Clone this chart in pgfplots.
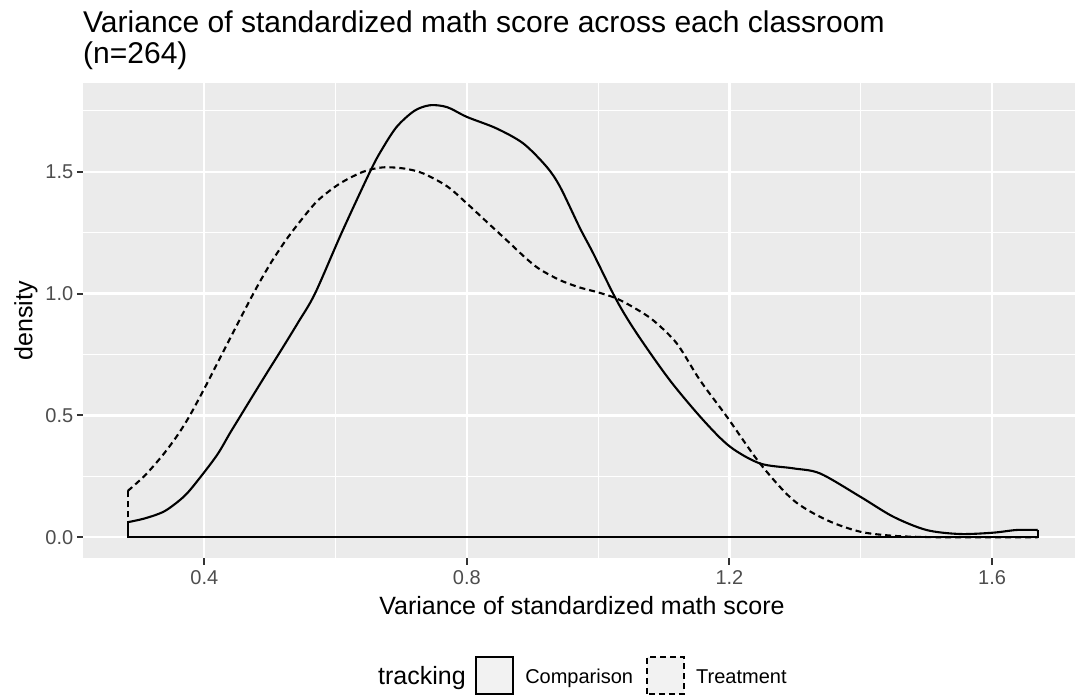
\documentclass[border=0pt]{standalone}
\usepackage{fontspec}
\setmainfont{Liberation Sans}
\usepackage{pgfplots}
\pgfplotsset{compat=1.18}
\definecolor{panelgray}{HTML}{EBEBEB}
\definecolor{grey30}{HTML}{4D4D4D}
\definecolor{grey20}{HTML}{333333}
\definecolor{keyfill}{HTML}{F2F2F2}
\begin{document}
\begin{tikzpicture}
\path[use as bounding box] (0pt,0pt) rectangle (1075pt,698pt);
\begin{axis}[
  at={(83pt,139.7pt)}, anchor=south west,
  scale only axis, width=992pt, height=475pt,
  xmin=0.2152, xmax=1.7264, ymin=-0.0862, ymax=1.863,
  axis background/.style={fill=panelgray},
  axis line style={draw=none},
  grid=both,
  major grid style={white, line width=2.3pt},
  minor grid style={white, line width=1.15pt},
  xtick={0.4,0.8,1.2,1.6}, xticklabels={0.4,0.8,1.2,1.6},
  ytick={0,0.5,1,1.5}, yticklabels={0.0,0.5,1.0,1.5},
  minor xtick={0.6,1.0,1.4}, minor ytick={0.25,0.75,1.25,1.75},
  xtick pos=lower, ytick pos=left,
  tick align=outside, major tick length=6.25pt, minor tick length=0pt,
  tick style={line width=2pt, color=grey20},
  /pgf/number format/assume math mode=true,
  ticklabel style={font=\fontsize{20}{24}\selectfont, text=grey30},
  xticklabel style={yshift=-2.5pt},
  xlabel={Variance of standardized math score},
  ylabel={density},
  xlabel style={font=\fontsize{25}{30}\selectfont, at={(axis description cs:0.503,-0.1173)}, anchor=base},
  ylabel style={font=\fontsize{25}{30}\selectfont, at={(axis description cs:-0.0510,0.5)}, anchor=base},
  title={\begin{tabular}[t]{@{}l@{}}Variance of standardized math score across each classroom\\(n=264)\end{tabular}},
  title style={font=\fontsize{30}{30}\selectfont, inner sep=0pt, at={(axis description cs:0,1.0933)}, anchor=base west},
  legend style={draw=none, fill=none, legend columns=-1, at={(axis description cs:0.3921,-0.2472)}, anchor=west,
    font=\fontsize{20}{24}\selectfont,
    nodes={text height=0.73em, text depth=0.21em},
    /tikz/every odd column/.append style={column sep=9pt},
    /tikz/every even column/.append style={column sep=11pt}},
  legend image code/.code={\draw[#1, fill=keyfill] (0pt,-13.7pt) rectangle (37pt,23.3pt);},
]
% Comparison
\addplot[black, line width=2.1pt, smooth, tension=0.5] coordinates {
(0.2833,0.062) (0.31,0.078) (0.34,0.108) (0.37,0.17) (0.3935,0.245) (0.42,0.34)
(0.439,0.427) (0.456,0.502) (0.4696,0.562) (0.495,0.673) (0.518,0.772) (0.543,0.882)
(0.5686,1.0) (0.6093,1.25) (0.6524,1.5) (0.670,1.589) (0.693,1.684) (0.72,1.75)
(0.744,1.773) (0.77,1.765) (0.800,1.725)
(0.845,1.678) (0.886,1.616) (0.9216,1.52) (0.942,1.438) (0.972,1.27) (0.9925,1.165)
(1.028,0.973) (1.0587,0.837) (1.109,0.645) (1.160,0.481) (1.2008,0.372) (1.2465,0.303)
(1.297,0.283) (1.338,0.262) (1.399,0.167) (1.4495,0.0845) (1.500,0.030) (1.551,0.0135)
(1.602,0.019) (1.6375,0.030) (1.6696,0.030)
};
\addlegendentry{Comparison}
\addplot[black, line width=2.1pt, forget plot] coordinates {
(1.6696,0.030) (1.6696,0) (0.2833,0) (0.2833,0.062)
};
% Treatment
\addplot[black, line width=2.1pt, dash pattern=on 6pt off 4pt, smooth, tension=0.5] coordinates {
(0.2833,0.19) (0.31,0.255) (0.3375,0.34) (0.36,0.422) (0.378,0.5) (0.4,0.61)
(0.42,0.715) (0.44,0.82) (0.4747,1.0) (0.5,1.12) (0.525,1.222) (0.55,1.31)
(0.5737,1.384) (0.6067,1.452)
(0.642,1.50) (0.672,1.518) (0.705,1.513) (0.7336,1.493) (0.77,1.44) (0.800,1.37)
(0.83,1.295) (0.8606,1.219) (0.89,1.145) (0.911,1.10) (0.942,1.055) (0.972,1.025)
(1.0,1.005) (1.028,0.98) (1.056,0.94) (1.084,0.89) (1.1196,0.796) (1.155,0.645)
(1.196,0.495) (1.2465,0.303) (1.297,0.153) (1.348,0.071) (1.399,0.023) (1.45,0.006)
(1.50,0.001) (1.55,0) (1.6696,0)
};
\addlegendentry{Treatment}
\addplot[black, line width=2.1pt, dash pattern=on 6pt off 4pt, forget plot] coordinates {
(1.6696,0) (0.2833,0) (0.2833,0.19)
};
\end{axis}
\node[anchor=base west, font=\fontsize{25}{30}\selectfont, inner sep=0pt] at (378pt,13.5pt) {tracking};
\end{tikzpicture}
\end{document}
